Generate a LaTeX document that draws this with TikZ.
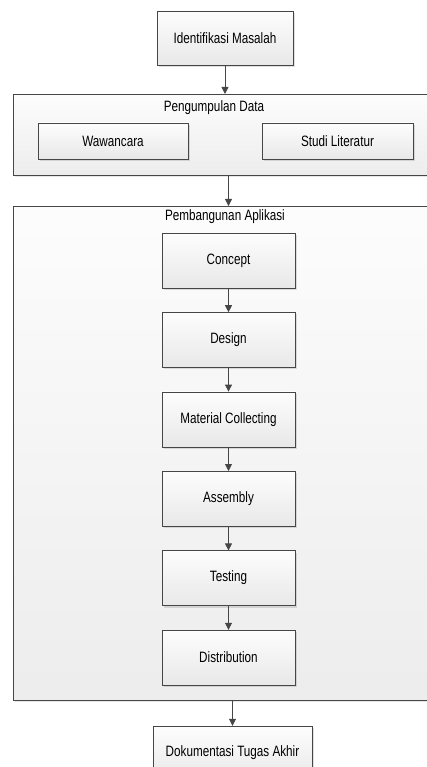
\documentclass[tikz,border=0pt]{standalone}
\usepackage{fontspec}
\setmainfont{Liberation Sans}[FakeStretch=0.78]
\usepackage{tikz}
\usetikzlibrary{positioning, arrows.meta, shadows}
\definecolor{lineC}{RGB}{70, 70, 70}
\definecolor{boxTop}{RGB}{253, 253, 253}
\definecolor{boxBot}{RGB}{232, 232, 232}

\begin{document}
\begin{tikzpicture}[x=1pt, y=-1pt, >={Triangle[length=7pt, width=7pt]},
    font=\fontsize{15}{17}\selectfont,
    stepbox/.style={draw=lineC, top color=boxTop, bottom color=boxBot,
      minimum width=133pt, minimum height=55pt, inner sep=0pt,
      drop shadow={shadow xshift=2pt, shadow yshift=-2pt, opacity=0.25}},
    groupbox/.style={draw=lineC, top color=white!98!gray, bottom color=boxBot!80!white,
      anchor=north west, inner sep=0pt,
      drop shadow={shadow xshift=1.5pt, shadow yshift=-1.5pt, opacity=0.2}},
    flow/.style={->, lineC, thick}]
  \useasboundingbox (0, 0) rectangle (426, 767);

  \node[stepbox, minimum width=136pt, minimum height=54pt] (ident) at (225, 38) {Identifikasi Masalah};

  % Pengumpulan Data
  \node[groupbox, minimum width=420pt, minimum height=81pt] (kumpul) at (13, 94) {};
  \node (kumpulT) at (214, 108) {Pengumpulan Data};
  \node[stepbox, minimum width=150pt, minimum height=36pt] (wawan) at (113, 141) {Wawancara};
  \node[stepbox, minimum width=151pt, minimum height=36pt] (studi) at (337.5, 141) {Studi Literatur};

  % Pembangunan Aplikasi
  \node[groupbox, minimum width=420pt, minimum height=494pt] (bangun) at (13, 206) {};
  \node (bangunT) at (225, 217) {Pembangunan Aplikasi};
  \node[stepbox] (concept) at (228.5, 260.5) {Concept};
  \node[stepbox, below=24pt of concept] (design) {Design};
  \node[stepbox, below=24pt of design] (material) {Material Collecting};
  \node[stepbox, below=24pt of material] (assembly) {Assembly};
  \node[stepbox, below=24pt of assembly] (testing) {Testing};
  \node[stepbox, below=24pt of testing] (distrib) {Distribution};

  \node[stepbox, minimum width=159pt, minimum height=54pt] (dokumen) at (232.5, 753) {Dokumentasi Tugas Akhir};

  \draw[flow] (ident) -- (ident |- kumpul.north);
  \draw[flow] (kumpul.south -| concept) -- (bangun.north -| concept);
  \draw[flow] (concept) -- (design);
  \draw[flow] (design) -- (material);
  \draw[flow] (material) -- (assembly);
  \draw[flow] (assembly) -- (testing);
  \draw[flow] (testing) -- (distrib);
  \draw[flow] (bangun.south -| dokumen) -- (dokumen);
\end{tikzpicture}
\end{document}
